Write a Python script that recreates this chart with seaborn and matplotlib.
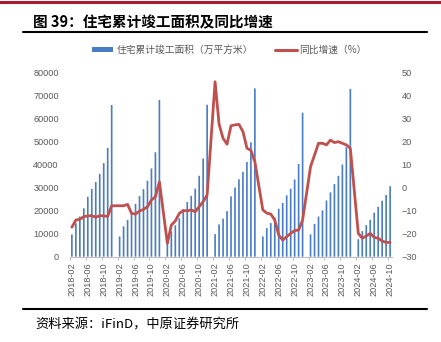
import numpy as np
import pandas as pd
import matplotlib
matplotlib.use("Agg")
import matplotlib.pyplot as plt
import seaborn as sns
from matplotlib.patches import Patch
from matplotlib.lines import Line2D

# ---------------- data ----------------
# category axis: every month 2018-02 .. 2024-10 (January slots are empty)
months = [p.strftime("%Y-%m") for p in pd.period_range("2018-02", "2024-10", freq="M")]
tick_labels = months[::4]

# cumulative residential completed area (10k m2), Feb..Dec for each year
area_2018 = [9700, 14500, 17400, 21000, 26000, 29400, 32400, 35900, 40600, 47200, 65800]
area_2019 = [8800, 13200, 15900, 18800, 22900, 26300, 29300, 33000, 38300, 45300, 68000]
area_2020 = [6700, 11000, 13600, 16700, 20600, 23700, 26400, 29500, 35100, 42600, 65900]
area_2021 = [9800, 14000, 16500, 19800, 26200, 30000, 33600, 36800, 41100, 49600, 73000]
area_2022 = [8800, 12400, 14600, 17000, 20800, 23300, 26600, 29500, 33500, 40200, 62500]
area_2023 = [9700, 14200, 17400, 20100, 24400, 27900, 31500, 35100, 40000, 47500, 72800]
area_2024 = [7600, 11100, 13700, 16000, 19100, 21700, 24300, 26800, 30600]

# YoY growth (%), Feb..Dec for each year
yoy_2018 = [-17.2, -14.1, -13.8, -12.6, -12.3, -12.2, -12.9, -12.2, -12.3, -12.5, -7.9]
yoy_2019 = [-7.9, -7.9, -7.3, -11.2, -11.5, -10.2, -9.5, -8.3, -5.4, -4.0, 2.5]
yoy_2020 = [-24.2, -16.3, -14.5, -11.2, -10.0, -10.1, -9.7, -10.5, -8.3, -6.1, -3.2]
yoy_2021 = [45.9, 27.5, 21.4, 18.8, 26.8, 27.2, 27.4, 24.3, 17.1, 16.1, 11.2]
yoy_2022 = [-9.7, -11.1, -11.5, -14.1, -20.6, -22.8, -21.3, -19.9, -18.7, -18.4, -14.1]
yoy_2023 = [9.1, 14.1, 19.2, 19.2, 18.5, 20.6, 19.5, 19.9, 19.2, 18.5, 17.0]
yoy_2024 = [-19.9, -22.0, -21.0, -19.9, -21.6, -22.0, -23.2, -23.8, -23.8]

years = [2018, 2019, 2020, 2021, 2022, 2023, 2024]
areas = [area_2018, area_2019, area_2020, area_2021, area_2022, area_2023, area_2024]
yoys = [yoy_2018, yoy_2019, yoy_2020, yoy_2021, yoy_2022, yoy_2023, yoy_2024]

rows = []
for y, a_list, g_list in zip(years, areas, yoys):
    for i, (a, g) in enumerate(zip(a_list, g_list)):
        m = f"{y}-{i + 2:02d}"
        rows.append({"month": m, "area": a, "yoy": g, "pos": months.index(m)})
df = pd.DataFrame(rows)

BAR = "#4A7CC4"
RED = "#C0504D"
GRAY = "#595959"

# ---------------- style ----------------
sns.set_theme(style="white")
plt.rcParams["font.family"] = ["Noto Sans CJK SC", "DejaVu Sans"]

W, H = 441, 342
fig = plt.figure(figsize=(W / 100, H / 100), dpi=100)
ax = fig.add_axes([69.9 / W, 85.3 / H, 322.2 / W, 184.4 / H])

sns.barplot(data=df, x="month", y="area", order=months, color=BAR,
            saturation=1, width=0.42, errorbar=None, ax=ax)
for p in ax.patches:
    p.set_snap(False)
    p.set_linewidth(0)
    p.set_edgecolor("none")

ax2 = ax.twinx()
sns.lineplot(x=df["pos"], y=df["yoy"], ax=ax2, color=RED, linewidth=2.0,
             solid_joinstyle="round", solid_capstyle="round")

ax.set_xlim(-0.5, len(months) - 0.5)
ax.set_ylim(0, 80000)
ax2.set_ylim(-30, 50)
ax.set_yticks(np.arange(0, 80001, 10000))
ax2.set_yticks(np.arange(-30, 51, 10))
ax.set_xticks(range(0, len(months), 4))
ax.set_xticklabels(tick_labels, rotation=90)
ax.set_xticks(np.arange(-0.5, len(months), 4), minor=True)

for a in (ax, ax2):
    a.set_xlabel("")
    a.set_ylabel("")
    for s in a.spines.values():
        s.set_visible(False)
ax.spines["bottom"].set_visible(True)
ax.spines["bottom"].set_color("#BFBFBF")
ax.spines["bottom"].set_linewidth(0.75)

ax.tick_params(axis="y", length=0, pad=8, labelsize=6.6, labelcolor=GRAY)
ax2.tick_params(axis="y", length=0, pad=7, labelsize=6.6, labelcolor=GRAY)
ax.tick_params(axis="x", which="major", length=0, pad=4, labelsize=6.6, labelcolor=GRAY)
ax.tick_params(axis="x", which="minor", length=2.5, width=0.75, color="#BFBFBF", bottom=True)
for lbl in ax.get_xticklabels() + ax.get_yticklabels() + ax2.get_yticklabels():
    lbl.set_fontfamily(["Liberation Sans", "DejaVu Sans"])

# legend
handles = [Patch(facecolor=BAR, edgecolor="none"),
           Line2D([], [], color=RED, linewidth=2.2)]
labels = ["住宅累计竣工面积（万平方米）", "同比增速（%）"]
fig.legend(handles, labels, loc="center left", bbox_to_anchor=(92 / W, 1 - 50 / H),
           ncol=2, frameon=False, fontsize=7, labelcolor=GRAY, handlelength=2.2,
           handleheight=0.55, handletextpad=0.3, columnspacing=2.3,
           borderaxespad=0, borderpad=0)

# title, rules, source
fig.add_artist(Line2D([0, 1], [1 - 2 / H, 1 - 2 / H], color="#A6192E", linewidth=2.2,
                      transform=fig.transFigure))
fig.text(33 / W, 1 - 22 / H, "图 39：住宅累计竣工面积及同比增速", fontsize=10.5,
         fontweight="bold", va="center", ha="left", color="black")
fig.add_artist(Line2D([23 / W, 427 / W], [1 - 32 / H, 1 - 32 / H], color="black",
                      linewidth=1.5, transform=fig.transFigure))
fig.add_artist(Line2D([23 / W, 427 / W], [1 - 309 / H, 1 - 309 / H], color="black",
                      linewidth=1.5, transform=fig.transFigure))
fig.text(35 / W, 1 - 325 / H, "资料来源：iFinD，中原证券研究所", fontsize=9.5,
         va="center", ha="left", color="black")

fig.savefig("out.png", dpi=100)
